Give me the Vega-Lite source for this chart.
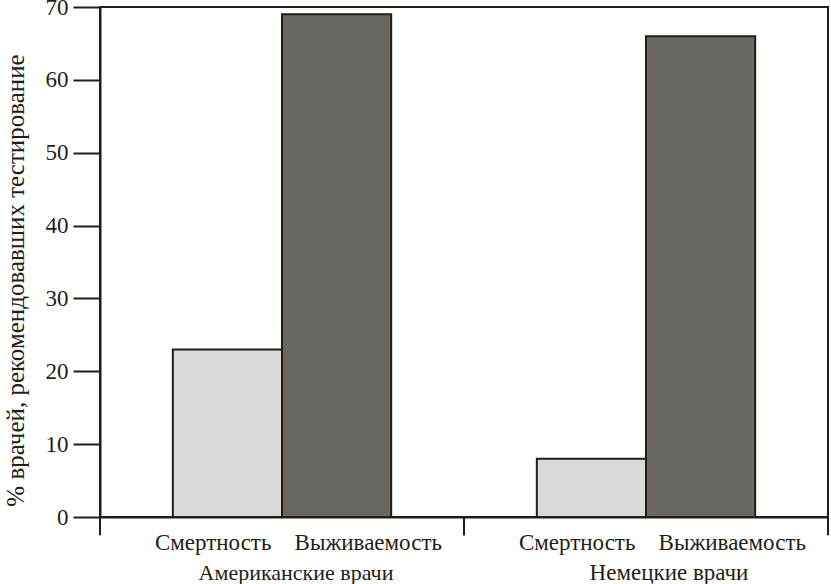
{
  "$schema": "https://vega.github.io/schema/vega-lite/v6.json",
  "autosize": {"type": "none"},
  "width": 728,
  "height": 510,
  "padding": {"left": 100, "top": 7, "right": 3, "bottom": 67},
  "background": "#ffffff",
  "config": {
    "font": "Liberation Serif",
    "view": {"stroke": "#231d16", "strokeWidth": 2},
    "axis": {
      "domainColor": "#231d16",
      "domainWidth": 2,
      "tickColor": "#231d16",
      "tickWidth": 2,
      "labelColor": "#231d16",
      "titleColor": "#231d16",
      "labelFont": "Liberation Serif",
      "titleFont": "Liberation Serif",
      "grid": false
    },
    "text": {"font": "Liberation Serif", "color": "#231d16", "fontSize": 23}
  },
  "data": {
    "values": [
      {"group": "Американские врачи", "category": "Смертность", "value": 23},
      {"group": "Американские врачи", "category": "Выживаемость", "value": 69},
      {"group": "Немецкие врачи", "category": "Смертность", "value": 8},
      {"group": "Немецкие врачи", "category": "Выживаемость", "value": 66}
    ]
  },
  "encoding": {
    "x": {
      "field": "group",
      "type": "nominal",
      "sort": ["Американские врачи", "Немецкие врачи"],
      "scale": {"paddingInner": 0, "paddingOuter": 0},
      "axis": {"labels": false, "ticks": false, "title": null}
    }
  },
  "layer": [
    {
      "mark": {"type": "bar", "stroke": "#231d16", "strokeWidth": 2},
      "encoding": {
        "xOffset": {
          "field": "category",
          "type": "nominal",
          "sort": ["Смертность", "Выживаемость"],
          "scale": {"paddingOuter": 0.667, "paddingInner": 0}
        },
        "y": {
          "field": "value",
          "type": "quantitative",
          "scale": {"domain": [0, 70], "nice": false},
          "axis": {
            "values": [0, 10, 20, 30, 40, 50, 60, 70],
            "tickSize": 27,
            "labelPadding": 5,
            "labelFontSize": 23,
            "title": "% врачей, рекомендовавших тестирование",
            "titleFontSize": 25,
            "titleFontWeight": "normal",
            "titlePadding": 17,
            "titleY": 273
          }
        },
        "fill": {
          "field": "category",
          "type": "nominal",
          "scale": {"domain": ["Смертность", "Выживаемость"], "range": ["#d9d9d9", "#6b6763"]},
          "legend": null
        }
      }
    },
    {
      "transform": [{"filter": "datum.category == 'Смертность'"}],
      "mark": {"type": "rule", "stroke": "#231d16", "strokeWidth": 2},
      "encoding": {
        "x": {"field": "group", "type": "nominal", "bandPosition": 0},
        "y": {"datum": 0},
        "y2": {"datum": -2.5}
      }
    },
    {
      "transform": [{"filter": "datum.category == 'Смертность'"}],
      "mark": {"type": "rule", "stroke": "#231d16", "strokeWidth": 2},
      "encoding": {
        "x": {"field": "group", "type": "nominal", "bandPosition": 1},
        "y": {"datum": 0},
        "y2": {"datum": -2.5}
      }
    },
    {
      "transform": [{"filter": "datum.category == 'Смертность'"}],
      "mark": {"type": "text", "align": "right", "baseline": "alphabetic", "dx": 44, "dy": 33},
      "encoding": {
        "xOffset": {"field": "category", "type": "nominal", "sort": ["Смертность", "Выживаемость"]},
        "y": {"datum": 0},
        "text": {"field": "category"}
      }
    },
    {
      "transform": [{"filter": "datum.category == 'Выживаемость'"}],
      "mark": {"type": "text", "align": "left", "baseline": "alphabetic", "dx": -42, "dy": 33},
      "encoding": {
        "xOffset": {"field": "category", "type": "nominal", "sort": ["Смертность", "Выживаемость"]},
        "y": {"datum": 0},
        "text": {"field": "category"}
      }
    },
    {
      "transform": [{"filter": "datum.category == 'Смертность' && datum.group == 'Американские врачи'"}],
      "mark": {"type": "text", "align": "center", "baseline": "alphabetic", "dx": 14, "dy": 63, "fontSize": 22},
      "encoding": {
        "y": {"datum": 0},
        "text": {"field": "group"}
      }
    },
    {
      "transform": [{"filter": "datum.category == 'Смертность' && datum.group == 'Немецкие врачи'"}],
      "mark": {"type": "text", "align": "center", "baseline": "alphabetic", "dx": 23, "dy": 63, "fontSize": 23},
      "encoding": {
        "y": {"datum": 0},
        "text": {"field": "group"}
      }
    }
  ]
}
